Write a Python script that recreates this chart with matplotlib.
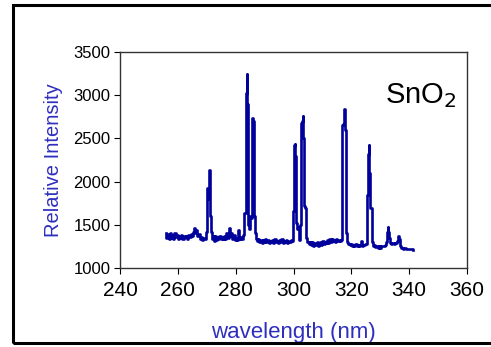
import matplotlib
matplotlib.use('Agg')
import matplotlib.pyplot as plt
from matplotlib.patches import Rectangle

WIDTH = 491
HEIGHT = 347
DPI = 100

# wavelength (nm) and relative intensity
wavelength = [
    255.8, 256.2, 256.6, 257.0, 257.4, 257.8, 258.2, 258.6, 259.0, 259.4,
    259.8, 260.2, 260.6, 261.0, 261.4, 261.8, 262.2, 262.6, 263.0, 263.4,
    263.8, 264.2, 264.6, 265.0, 265.4, 265.8, 266.2, 266.6, 267.0, 267.4,
    267.8, 268.2, 268.6, 269.0, 269.4, 269.8, 270.1, 270.4, 270.7, 270.9,
    271.2, 271.5, 271.8, 272.2, 272.6, 273.0, 273.4, 273.8, 274.2, 274.6,
    275.0, 275.4, 275.8, 276.2, 276.6, 277.0, 277.4, 277.8, 278.2, 278.6,
    279.0, 279.4, 279.8, 280.2, 280.6, 281.0, 281.4, 281.8, 282.2, 282.6,
    282.9, 283.3, 283.6, 283.9, 284.2, 284.5, 284.8, 285.2, 285.6, 285.9,
    286.2, 286.5, 286.8, 287.2, 287.6, 288.0, 288.4, 288.8, 289.2, 289.6,
    290.0, 290.4, 290.8, 291.2, 291.6, 292.0, 292.4, 292.8, 293.2, 293.6,
    294.0, 294.4, 294.8, 295.2, 295.6, 296.0, 296.4, 296.8, 297.2, 297.6,
    298.0, 298.4, 298.8, 299.2, 299.6, 299.9, 300.2, 300.5, 300.8, 301.1,
    301.4, 301.7, 302.0, 302.4, 302.7, 303.0, 303.3, 303.6, 303.9, 304.3,
    304.6, 305.0, 305.4, 305.8, 306.2, 306.6, 307.0, 307.4, 307.8, 308.2,
    308.6, 309.0, 309.4, 309.8, 310.2, 310.6, 311.0, 311.4, 311.8, 312.2,
    312.6, 313.0, 313.4, 313.8, 314.2, 314.6, 315.0, 315.4, 315.8, 316.2,
    316.6, 316.9, 317.2, 317.5, 317.8, 318.1, 318.4, 318.8, 319.2, 319.6,
    320.0, 320.4, 320.8, 321.2, 321.6, 322.0, 322.4, 322.8, 323.2, 323.6,
    324.0, 324.4, 324.8, 325.2, 325.5, 325.8, 326.1, 326.4, 326.7, 327.0,
    327.3, 327.7, 328.1, 328.5, 328.9, 329.3, 329.7, 330.1, 330.5, 330.9,
    331.3, 331.7, 332.1, 332.4, 332.7, 333.0, 333.3, 333.6, 334.0, 334.4,
    334.8, 335.2, 335.6, 336.0, 336.4, 336.8, 337.1, 337.5, 338.0, 338.5,
    339.0, 339.5, 340.0, 340.5, 341.0, 341.4,
]
intensity = [
    1410, 1350, 1390, 1340, 1400, 1350, 1380, 1340, 1410, 1360,
    1380, 1340, 1370, 1350, 1380, 1340, 1370, 1360, 1370, 1340,
    1380, 1360, 1390, 1370, 1420, 1460, 1400, 1440, 1370, 1390,
    1330, 1360, 1320, 1350, 1330, 1420, 1580, 1930, 1800, 2140,
    1600, 1420, 1330, 1370, 1310, 1370, 1320, 1360, 1330, 1370,
    1340, 1360, 1330, 1370, 1340, 1400, 1350, 1460, 1370, 1400,
    1340, 1380, 1320, 1350, 1320, 1440, 1330, 1360, 1340, 1380,
    1640, 1640, 3030, 3250, 2900, 1500, 1450, 1600, 1580, 2740,
    2700, 1600, 1400, 1340, 1310, 1330, 1300, 1320, 1290, 1320,
    1300, 1330, 1300, 1320, 1290, 1310, 1300, 1320, 1290, 1330,
    1300, 1310, 1290, 1320, 1300, 1330, 1290, 1310, 1300, 1320,
    1290, 1310, 1300, 1320, 1310, 1660, 2420, 2430, 2300, 1520,
    1450, 1480, 1320, 1500, 2680, 2700, 2760, 2500, 1720, 1700,
    1350, 1300, 1280, 1300, 1270, 1300, 1260, 1290, 1270, 1300,
    1260, 1290, 1300, 1270, 1310, 1280, 1300, 1290, 1320, 1290,
    1330, 1300, 1330, 1310, 1320, 1300, 1330, 1310, 1320, 1310,
    1320, 2650, 2670, 2840, 2650, 2600, 1400, 1300, 1280, 1270,
    1280, 1260, 1270, 1260, 1280, 1260, 1270, 1260, 1270, 1310,
    1260, 1270, 1280, 1280, 1840, 2320, 2420, 2100, 1700, 1700,
    1300, 1250, 1270, 1240, 1260, 1230, 1260, 1230, 1250, 1260,
    1260, 1270, 1300, 1420, 1480, 1420, 1350, 1290, 1280, 1290,
    1280, 1290, 1290, 1310, 1370, 1330, 1260, 1230, 1220, 1230,
    1220, 1220, 1220, 1220, 1215, 1210,
]

x_ticks = [240, 260, 280, 300, 320, 340, 360]
y_ticks = [1000, 1500, 2000, 2500, 3000, 3500]

LABEL_BLUE = '#2f2fbf'
LINE_BLUE = '#00009a'

plt.rcParams['font.family'] = ['Liberation Sans', 'DejaVu Sans']

fig = plt.figure(figsize=(WIDTH / DPI, HEIGHT / DPI), dpi=DPI)

# outer frame of the original picture (right side runs off the image)
fig.patches.append(Rectangle((13 / WIDTH, 1 - 343 / HEIGHT), 1.0, (343 - 5) / HEIGHT,
                             transform=fig.transFigure, fill=False,
                             edgecolor='black', linewidth=2.2))

ax = fig.add_axes([120 / WIDTH, 1 - 268 / HEIGHT, (467 - 120) / WIDTH, (268 - 52) / HEIGHT])
ax.plot(wavelength, intensity, color=LINE_BLUE, linewidth=1.9, drawstyle='steps-mid')

ax.set_xlim(240, 360)
ax.set_ylim(1000, 3500)
ax.set_xticks(x_ticks)
ax.set_yticks(y_ticks)
ax.tick_params(axis='x', labelsize=15, direction='out', length=4, pad=5)
ax.tick_params(axis='y', labelsize=12, direction='out', length=4, pad=3)
for s in ax.spines.values():
    s.set_color('#333333')
    s.set_linewidth(1.0)

ax.set_xlabel('wavelength (nm)', fontsize=16, color=LABEL_BLUE, labelpad=16)
ax.set_ylabel('Relative Intensity', fontsize=14.5, color=LABEL_BLUE, labelpad=7)

ax.text(0.765, 0.8, 'SnO$_2$', transform=ax.transAxes, fontsize=21,
        ha='left', va='center')

fig.savefig('out.png', dpi=DPI)
